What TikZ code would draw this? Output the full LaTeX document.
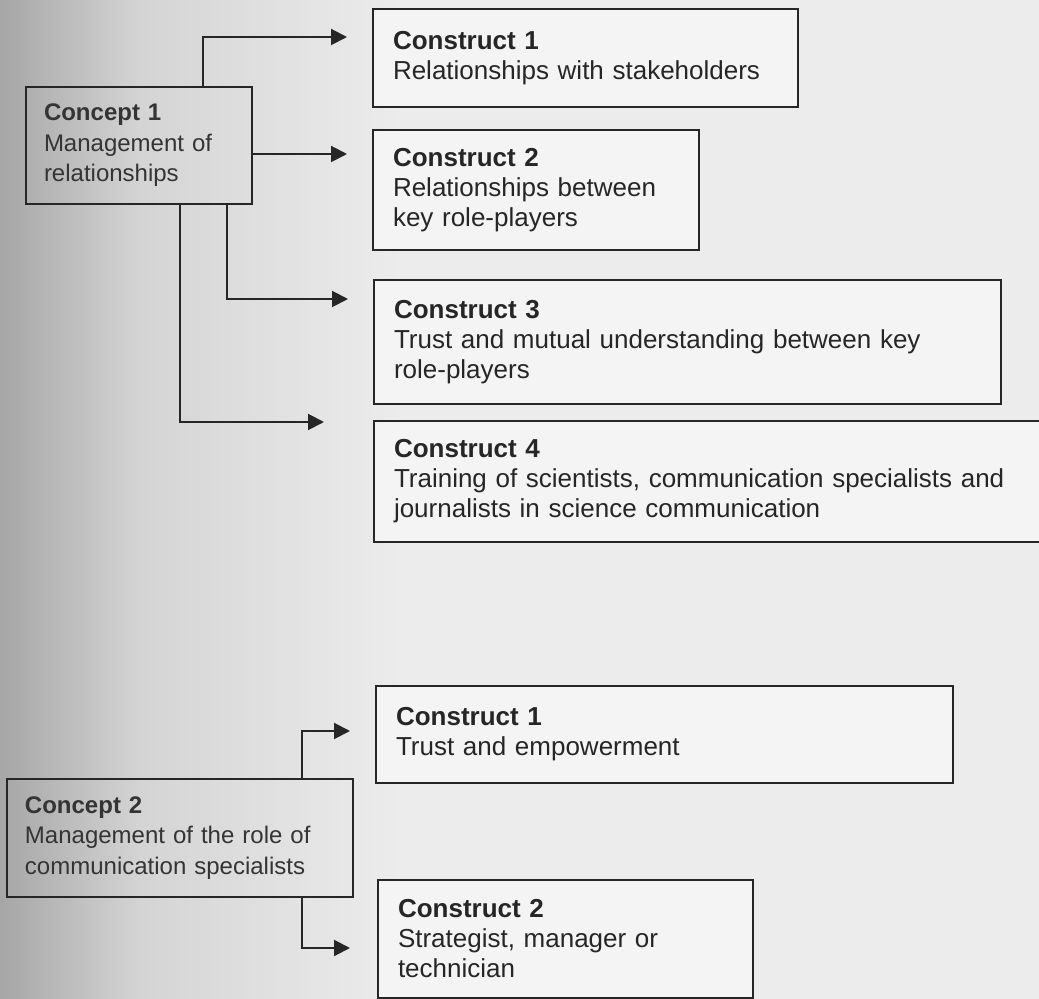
\documentclass[tikz,border=0pt]{standalone}
\usepackage{fontspec}
\setmainfont{Liberation Sans}
\usetikzlibrary{arrows.meta, positioning}
\usepackage{xcolor}
\definecolor{pagegrey}{RGB}{236,236,236}
\definecolor{midgrey}{RGB}{212,212,212}
\definecolor{shadowgrey}{RGB}{166,166,166}
\definecolor{boxwhite}{RGB}{244,244,244}
\definecolor{inkgrey}{RGB}{38,38,38}
\definecolor{conceptink}{RGB}{52,52,52}
\tikzset{constructnode/.style={rectangle, draw=inkgrey, fill=boxwhite, line width=1pt, anchor=north west, align=left, inner xsep=10pt, inner ysep=0pt, text=inkgrey, font=\fontsize{13pt}{15pt}\selectfont},conceptnode/.style={rectangle, draw=inkgrey, line width=1pt, anchor=north west, align=left, inner xsep=9pt, inner ysep=0pt, text=conceptink, font=\fontsize{12pt}{15.25pt}\selectfont}}

\begin{document}
\begin{tikzpicture}[
        x=0.5pt, y=-0.5pt,
        flowarrow/.style={draw=inkgrey, line width=1pt, -{Triangle[length=8pt, width=8pt]}}
    ]
        % Page
        \useasboundingbox (0,0) rectangle (1039,999);
        \clip (0,0) rectangle (1039,999);
        \fill[pagegrey] (0,0) rectangle (1039,999);
        \shade[left color=shadowgrey, right color=midgrey] (0,0) rectangle (140,999);
        \shade[left color=midgrey, right color=pagegrey] (140,0) rectangle (400,999);
        % Concept 1 and its constructs
        \node[conceptnode, minimum width=113pt, text width=95pt, minimum height=58.5pt] (concA) at (25,86) {\textbf{Concept 1}\\Management of\\relationships};
        \node[constructnode, minimum width=212.5pt, text width=192.5pt, minimum height=49pt] (consA1) at (372,8) {\textbf{Construct 1}\\Relationships with stakeholders};
        \node[constructnode, minimum width=163pt, text width=143pt, minimum height=60pt] (consA2) at (372,129) {\textbf{Construct 2}\\Relationships between\\key role-players};
        \node[constructnode, minimum width=313.5pt, text width=293.5pt, minimum height=62pt] (consA3) at (373,279) {\textbf{Construct 3}\\Trust and mutual understanding between key\\role-players};
        \node[constructnode, minimum width=343.5pt, text width=323.5pt, minimum height=60.5pt] (consA4) at (373,420) {\textbf{Construct 4}\\Training of scientists, communication specialists and\\journalists in science communication};
        % Concept 2 and its constructs
        \node[conceptnode, minimum width=173pt, text width=155pt, minimum height=59pt] (concB) at (6,778) {\textbf{Concept 2}\\Management of the role of\\communication specialists};
        \node[constructnode, minimum width=288.5pt, text width=268.5pt, minimum height=48.5pt] (consB1) at (375,685) {\textbf{Construct 1}\\Trust and empowerment};
        \node[constructnode, minimum width=187.5pt, text width=167.5pt, minimum height=59pt] (consB2) at (377,879) {\textbf{Construct 2}\\Strategist, manager or\\technician};
        % Arrow tips
        \coordinate (tipA1) at (347,37);
        \coordinate (tipA2) at (347,154);
        \coordinate (tipA3) at (348,299);
        \coordinate (tipA4) at (324,422);
        \coordinate (tipB1) at (350,731);
        \coordinate (tipB2) at (350,948);
        % Arrows
        \draw[flowarrow] ([xshift=89pt]concA.north west) |- (tipA1);
        \draw[flowarrow] (concA.east |- tipA2) -- (tipA2);
        \draw[flowarrow] ([xshift=101pt]concA.south west) |- (tipA3);
        \draw[flowarrow] ([xshift=77.5pt]concA.south west) |- (tipA4);
        \draw[flowarrow] ([xshift=148pt]concB.north west) |- (tipB1);
        \draw[flowarrow] ([xshift=148pt]concB.south west) |- (tipB2);
    \end{tikzpicture}
\end{document}
